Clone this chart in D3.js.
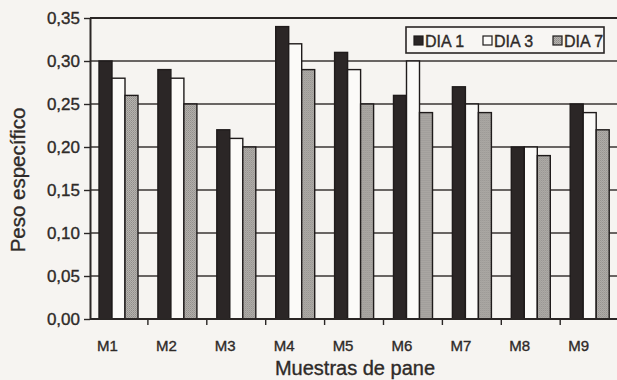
<!DOCTYPE html>
<html>
<head>
<meta charset="utf-8">
<script src="https://cdn.jsdelivr.net/npm/d3@7"></script>
<style>
  html, body { margin: 0; padding: 0; background: #f6f4f1; }
  svg { display: block; font-family: "Liberation Sans", Arial, sans-serif; }
  .lbl { fill: #2e2a28; stroke: #2e2a28; stroke-width: 0.35px; }
</style>
</head>
<body>
<svg id="chart" width="617" height="380"></svg>
<script>
// Muestras de pan y su peso específico en los días 1, 3 y 7
const categories = ["M1", "M2", "M3", "M4", "M5", "M6", "M7", "M8", "M9"];
const seriesNames = ["DIA 1", "DIA 3", "DIA 7"];
const dia1 = [0.30, 0.29, 0.22, 0.34, 0.31, 0.26, 0.27, 0.20, 0.25];
const dia3 = [0.28, 0.28, 0.21, 0.32, 0.29, 0.30, 0.25, 0.20, 0.24];
const dia7 = [0.26, 0.25, 0.20, 0.29, 0.25, 0.24, 0.24, 0.19, 0.22];
const yTicks = [0, 0.05, 0.10, 0.15, 0.20, 0.25, 0.30, 0.35];

const rows = categories.map((c, i) => ({
  cat: c,
  vals: [dia1[i], dia3[i], dia7[i]].map((v, j) => ({ key: seriesNames[j], value: v }))
}));

const svg = d3.select("#chart");
const margin = { left: 90, top: 18, bottom: 319 };
const x0 = d3.scaleBand().domain(categories).range([89, 89 + 9 * 58.9]).padding(0);
const x1 = d3.scaleBand().domain(seriesNames).range([10, 49]).padding(0);
const y = d3.scaleLinear().domain([0, 0.35]).range([margin.bottom, margin.top]);

// stippled grey for the day-7 bars
const defs = svg.append("defs");
const pat = defs.append("pattern").attr("id", "stipple")
  .attr("width", 2).attr("height", 2).attr("patternUnits", "userSpaceOnUse");
pat.append("rect").attr("width", 2).attr("height", 2).attr("fill", "#b5b2ae");
pat.append("rect").attr("width", 1).attr("height", 1).attr("fill", "#8f8c89");
pat.append("rect").attr("x", 1).attr("y", 1).attr("width", 1).attr("height", 1).attr("fill", "#9d9a96");

const fills = { "DIA 1": "#2b2626", "DIA 3": "#fbfaf8", "DIA 7": "url(#stipple)" };

// horizontal grid
svg.append("g").selectAll("line").data(yTicks.slice(1, -1)).join("line")
  .attr("x1", margin.left).attr("x2", 617)
  .attr("y1", d => y(d)).attr("y2", d => y(d))
  .attr("stroke", "#3a3633").attr("stroke-width", 1.4);

// top frame line
svg.append("line").attr("x1", margin.left).attr("x2", 617)
  .attr("y1", y(0.35)).attr("y2", y(0.35))
  .attr("stroke", "#2a2625").attr("stroke-width", 2);

// bars
svg.append("g").selectAll("g").data(rows).join("g")
  .attr("transform", d => `translate(${x0(d.cat)},0)`)
  .selectAll("rect").data(d => d.vals).join("rect")
  .attr("x", d => x1(d.key))
  .attr("width", x1.bandwidth())
  .attr("y", d => y(d.value))
  .attr("height", d => y(0) - y(d.value))
  .attr("fill", d => fills[d.key])
  .attr("stroke", "#1f1b1b").attr("stroke-width", 1.4);

// y axis
const yAxis = d3.axisLeft(y).tickValues(yTicks)
  .tickFormat(d => d3.format(".2f")(d).replace(".", ","))
  .tickSize(6).tickSizeOuter(0).tickPadding(4);
const gy = svg.append("g").attr("transform", `translate(${margin.left},0)`).call(yAxis);
gy.select(".domain").attr("stroke", "#2a2625").attr("stroke-width", 2);
gy.selectAll(".tick line").attr("stroke", "#2a2625").attr("stroke-width", 1.4);
gy.selectAll(".tick text").attr("class", "lbl").attr("font-size", 17)
  .attr("font-family", "Liberation Sans, Arial, sans-serif");

// x axis baseline with ticks at band boundaries
svg.append("line").attr("x1", margin.left).attr("x2", 617)
  .attr("y1", y(0)).attr("y2", y(0))
  .attr("stroke", "#2a2625").attr("stroke-width", 2);
svg.append("g").selectAll("line").data(categories.slice(1)).join("line")
  .attr("x1", d => x0(d)).attr("x2", d => x0(d))
  .attr("y1", y(0)).attr("y2", y(0) + 6)
  .attr("stroke", "#2a2625").attr("stroke-width", 1.4);
svg.append("g").selectAll("text").data(categories).join("text")
  .attr("class", "lbl")
  .attr("x", d => x0(d) + x0.bandwidth() / 2 - 11)
  .attr("y", 351)
  .attr("text-anchor", "middle")
  .attr("font-size", 15)
  .text(d => d);

// axis titles
svg.append("text").attr("class", "lbl").attr("transform", "translate(25,180) rotate(-90)")
  .attr("text-anchor", "middle").attr("font-size", 20.5)
  .text("Peso específico");
svg.append("text").attr("class", "lbl").attr("x", 355).attr("y", 374.5)
  .attr("text-anchor", "middle").attr("font-size", 20)
  .text("Muestras de pane");

// legend
const lg = svg.append("g");
lg.append("rect").attr("x", 406).attr("y", 27).attr("width", 198).attr("height", 26)
  .attr("fill", "#f8f6f3").attr("stroke", "#2a2625").attr("stroke-width", 1.6);
const legendX = [414, 483, 553];
seriesNames.forEach((s, i) => {
  lg.append("rect").attr("x", legendX[i]).attr("y", 36).attr("width", 9).attr("height", 9)
    .attr("fill", fills[s]).attr("stroke", "#1f1b1b").attr("stroke-width", 1.2);
  lg.append("text").attr("class", "lbl").attr("x", legendX[i] + 11).attr("y", 46.5)
    .attr("font-size", 16).text(s);
});
</script>
</body>
</html>
